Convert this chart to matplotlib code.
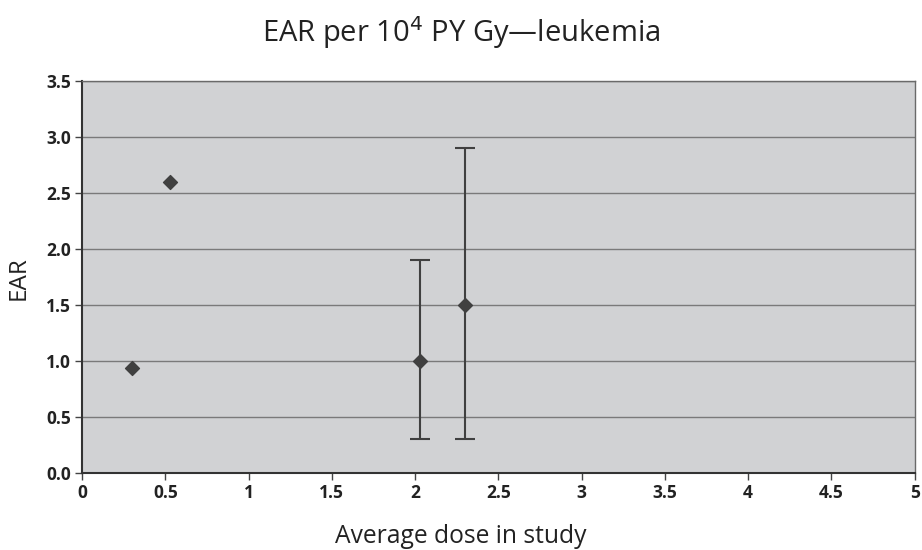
import matplotlib
matplotlib.use("Agg")
import matplotlib.pyplot as plt

# EAR points
dose = [0.3, 0.53, 2.03, 2.3]
ear = [0.94, 2.6, 1.0, 1.5]
ear_low = [None, None, 0.3, 0.3]
ear_high = [None, None, 1.9, 2.9]

xticks = [0, 0.5, 1, 1.5, 2, 2.5, 3, 3.5, 4, 4.5, 5]
xtick_labels = ["0", "0.5", "1", "1.5", "2", "2.5", "3", "3.5", "4", "4.5", "5"]
yticks = [0.0, 0.5, 1.0, 1.5, 2.0, 2.5, 3.0, 3.5]

plt.rcParams['font.family'] = ['Open Sans', 'DejaVu Sans']

fig = plt.figure(figsize=(9.22, 5.5), dpi=100)
ax = fig.add_axes([0.089, 0.14, 0.903, 0.7127])
ax.set_facecolor('#d1d2d4')

ax.set_xlim(0, 5)
ax.set_ylim(0, 3.5)
ax.set_yticks(yticks)
ax.set_yticklabels(["%.1f" % v for v in yticks], fontsize=12.5, fontweight='bold', color='#222222')
ax.set_xticks(xticks)
ax.set_xticklabels(xtick_labels, fontsize=12.5, fontweight='bold', color='#222222')
ax.yaxis.grid(True, color='#7a7a7a', linewidth=1)
ax.set_axisbelow(True)
ax.tick_params(axis='both', length=5, color='#444444', width=1, pad=3)

for s in ['top', 'right']:
    ax.spines[s].set_color('#6a6a6a')
    ax.spines[s].set_linewidth(1)
for s in ['left', 'bottom']:
    ax.spines[s].set_color('#333333')
    ax.spines[s].set_linewidth(1.5)

# error bars for the two points that have them
for x, y, lo, hi in zip(dose, ear, ear_low, ear_high):
    if lo is None:
        continue
    ax.errorbar([x], [y], yerr=[[y - lo], [hi - y]], fmt='none',
                ecolor='#404040', elinewidth=1.5, capsize=7, capthick=1.5, zorder=3)

ax.scatter(dose, ear, marker='D', s=50, color='#404040', zorder=4)

fig.text(0.5, 0.94, "EAR per 10$^4$ PY Gy\u2014leukemia", ha='center', va='center',
         fontsize=21, color='#222222')
fig.text(0.5, 0.024, "Average dose in study", ha='center', va='center',
         fontsize=17.7, color='#222222')
fig.text(0.02, 0.495, "EAR", ha='center', va='center', rotation=90,
         fontsize=17.5, color='#222222')

fig.savefig("out.png", dpi=100)
